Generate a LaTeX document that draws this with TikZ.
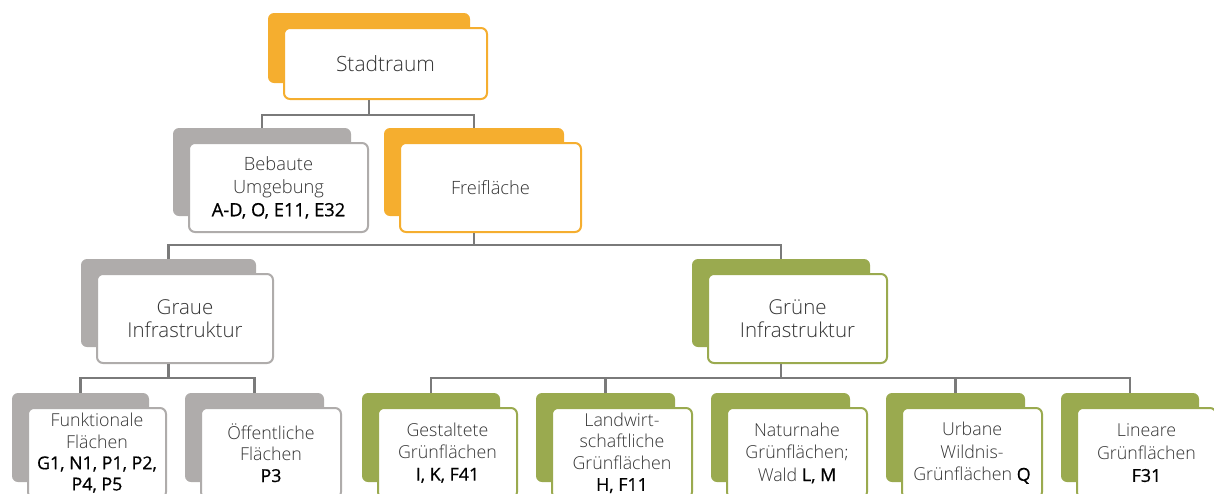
\documentclass[tikz,border=0pt]{standalone}
\usepackage{fontspec}
\setmainfont{Open Sans Light}
\newfontface\codefont{Open Sans}[FakeBold=0.6]
\definecolor{orng}{HTML}{F5AE2F}
\definecolor{gryb}{HTML}{AFACAB}
\definecolor{grn}{HTML}{9AAA4F}
\definecolor{conngray}{HTML}{7A7A7A}
\definecolor{labelgray}{HTML}{333333}
\tikzset{
 backbox/.style={rectangle, rounded corners=6pt, draw=none, inner sep=0pt},
 frontbox/.style={rectangle, rounded corners=6pt, fill=white, line width=2pt, inner sep=0pt, align=center, text=labelgray},
 conn/.style={draw=conngray, line width=2.5pt},
}
\newcommand\code[1]{{\codefont\textcolor{black}{#1}}}
% name, colour, x1, y1, x2, y2 (front box outer corners), font, text
\newcommand\tile[8]{%
 \node[backbox, fill=#2, minimum width={#5-#3-3}, minimum height={#6-#4-3}] (#1b) at ({(#3+#5)/2-16.5},{(#4+#6)/2-15.5}) {};
 \node[frontbox, draw=#2, minimum width={#5-#3-2}, minimum height={#6-#4-2}, font=#7] (#1) at ({(#3+#5)/2},{(#4+#6)/2}) {#8};
}
\begin{document}
\begin{tikzpicture}[x=1pt,y=-1pt]
\useasboundingbox (0,0) rectangle (1214,493);
\clip (0,0) rectangle (1214,493);
% tiles
\tile{s}{orng}{283}{27}{488}{100}{\fontsize{21}{24}\selectfont}{Stadtraum}
\tile{bu}{gryb}{188}{142}{369}{233}{\fontsize{18.3}{23}\selectfont}{Bebaute\\Umgebung\\\code{A-D, O, E11, E32}}
\tile{fr}{orng}{399}{142}{582}{233}{\fontsize{18.3}{23}\selectfont}{Freifläche}
\tile{gi}{gryb}{96}{273}{274}{364}{\fontsize{20.5}{23}\selectfont}{Graue\\Infrastruktur}
\tile{gr}{grn}{707}{273}{888}{364}{\fontsize{20.5}{23}\selectfont}{Grüne\\Infrastruktur}
\tile{fu}{gryb}{27}{407}{167}{499}{\fontsize{17.8}{21.2}\selectfont}{Funktionale\\Flächen\\\code{G1, N1, P1, P2,}\\\code{P4, P5}}
\tile{oe}{gryb}{200}{407}{342}{499}{\fontsize{17.8}{21.2}\selectfont}{Öffentliche\\Flächen\\\code{P3}}
\tile{ge}{grn}{377}{407}{518}{499}{\fontsize{17.8}{22}\selectfont}{Gestaltete\\Grünflächen\\\code{I, K, F41}}
\tile{la}{grn}{551}{407}{693}{499}{\fontsize{17.8}{21.5}\selectfont}{Landwirt-\\schaftliche\\Grünflächen\\\code{H, F11}}
\tile{na}{grn}{726}{407}{868}{499}{\fontsize{17.8}{22.5}\selectfont}{Naturnahe\\Grünflächen;\\Wald \code{L, M}}
\tile{ur}{grn}{901}{407}{1043}{499}{\fontsize{17.8}{22.5}\selectfont}{Urbane\\Wildnis-\\Grünflächen \code{Q}}
\tile{li}{grn}{1076}{407}{1217}{499}{\fontsize{17.8}{22.5}\selectfont}{Lineare\\Grünflächen\\\code{F31}}
% connectors
\draw[conn] (sb.center |- s.south) -- ++(0,15) coordinate (j1);
\draw[conn] (bub.north) |- (j1) -| (frb.north);
\draw[conn] (frb.center |- fr.south) -- ++(0,12) coordinate (j2);
\draw[conn] (gib.north) |- (j2) -| (grb.north);
\draw[conn] (gib.center |- gi.south) -- ++(0,14) coordinate (j3);
\draw[conn] (fub.north) |- (j3) -| (oeb.north);
\draw[conn] (grb.center |- gr.south) -- ++(0,14) coordinate (j4);
\draw[conn] (geb.north) |- (j4) -| (lib.north);
\draw[conn] (lab.north) -- (lab.north |- j4);
\draw[conn] (urb.north) -- (urb.north |- j4);
\end{tikzpicture}
\end{document}
